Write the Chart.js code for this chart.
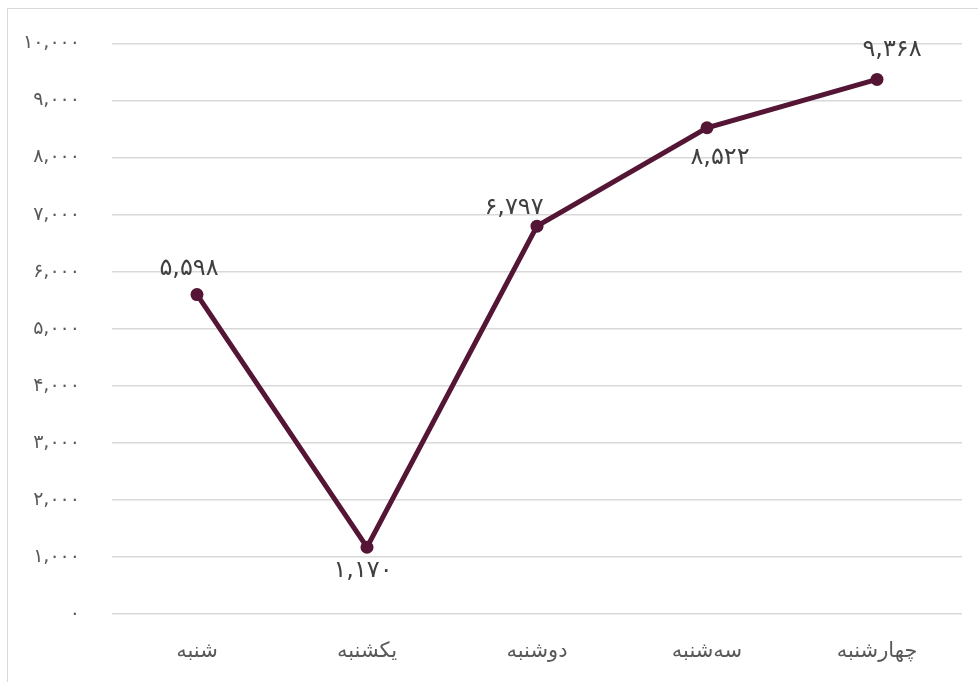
<!DOCTYPE html>
<html lang="fa">
<head>
<meta charset="UTF-8" />
<title>نمودار روزهای هفته</title>
<script src="https://cdn.jsdelivr.net/npm/chart.js@4.4.1/dist/chart.umd.min.js"></script>
<style>
    html, body { margin: 0; padding: 0; background: #ffffff; overflow: hidden; }
    #frame {
        position: absolute; left: 7px; top: 8px; width: 1000px; height: 700px;
        border: 1px solid #d9d9d9; box-sizing: border-box;
    }
    #wrap { position: absolute; left: 0; top: 0; width: 978px; height: 682px; }
</style>
</head>
<body>
<div id="frame"></div>
<div id="wrap"><canvas id="chart"></canvas></div>
<script>
// === Data ===
const DAYS = ["شنبه", "یکشنبه", "دوشنبه", "سه‌شنبه", "چهارشنبه"];
const VALUES = [5598, 1170, 6797, 8522, 9368];
const Y_TICKS = [0, 1000, 2000, 3000, 4000, 5000, 6000, 7000, 8000, 9000, 10000];

// label placement around each point (px)
const LABEL_DX = [-8, -4, -23, 13, 15];
const LABEL_DY = [-26, 24, -18, 30, -30];

const LINE_COLOR = "#541634";
const FONT = "'DejaVu Sans', sans-serif";

// western digits -> persian digits, with thousands comma
function fa(n) {
    const s = n.toLocaleString("en-US");
    return s.replace(/[0-9]/g, (d) => "۰۱۲۳۴۵۶۷۸۹"[+d]);
}

const valueLabels = {
    id: "valueLabels",
    afterDatasetsDraw(chart) {
        const ctx = chart.ctx;
        const meta = chart.getDatasetMeta(0);
        ctx.save();
        ctx.font = "24px " + FONT;
        ctx.fillStyle = "#404040";
        ctx.textAlign = "center";
        ctx.textBaseline = "middle";
        meta.data.forEach((pt, i) => {
            ctx.fillText(fa(VALUES[i]), pt.x + LABEL_DX[i], pt.y + LABEL_DY[i]);
        });
        ctx.restore();
    }
};

new Chart(document.getElementById("chart"), {
    type: "line",
    data: {
        labels: DAYS,
        datasets: [{
            data: VALUES,
            borderColor: LINE_COLOR,
            backgroundColor: LINE_COLOR,
            borderWidth: 5,
            pointRadius: 6.5,
            pointBackgroundColor: LINE_COLOR,
            pointBorderWidth: 0,
            tension: 0,
            fill: false
        }]
    },
    options: {
        responsive: true,
        maintainAspectRatio: false,
        animation: false,
        layout: { padding: { top: 40, right: 16, left: 0, bottom: 0 } },
        plugins: { legend: { display: false }, tooltip: { enabled: false } },
        scales: {
            x: {
                offset: true,
                grid: { display: false, drawTicks: false },
                border: { display: false },
                ticks: { color: "#595959", font: { size: 21, family: FONT }, padding: 25 },
                afterFit: (s) => { s.height = 68; }
            },
            y: {
                min: 0,
                max: 10000,
                afterBuildTicks: (s) => { s.ticks = Y_TICKS.map((v) => ({ value: v })); },
                grid: { color: "#d9d9d9", lineWidth: 1.5, drawTicks: false },
                border: { display: false },
                ticks: {
                    color: "#595959",
                    font: { size: 19, family: FONT },
                    padding: 32,
                    callback: (v) => fa(v)
                },
                afterFit: (s) => { s.width = 112; }
            }
        }
    },
    plugins: [valueLabels]
});
</script>
</body>
</html>
